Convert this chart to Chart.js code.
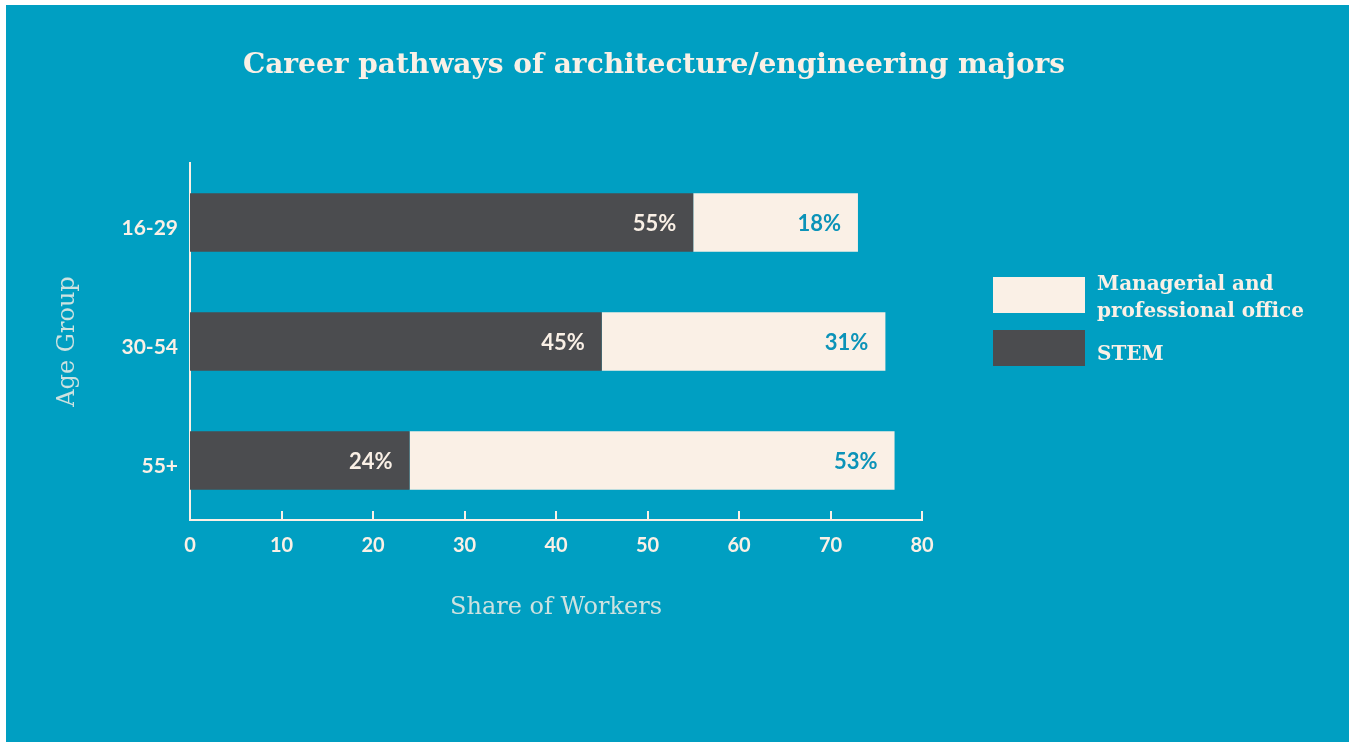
<!DOCTYPE html>
<html>
<head>
<meta charset="utf-8">
<title>Career pathways of architecture/engineering majors</title>
<script src="https://cdn.jsdelivr.net/npm/chart.js@4.4.1/dist/chart.umd.min.js"></script>
<style>
  html, body { margin: 0; padding: 0; background: #fff; }
  #wrap { position: absolute; left: 6px; top: 5px; width: 1343px; height: 737px; background: #009fc2; }
</style>
</head>
<body>
<div id="wrap"><canvas id="careerChart"></canvas></div>
<script>
// Share of workers (%) by age group
const ageGroups = ['16-29', '30-54', '55+'];
const stemShare = [55, 45, 24];
const officeShare = [18, 31, 53];
const seriesNames = ['STEM', 'Managerial and professional office'];
const xTickValues = [0, 10, 20, 30, 40, 50, 60, 70, 80];

const TEAL = '#009fc2';
const CREAM = '#faf0e6';
const SLATE = '#4b4c4f';
const SOFT = 'rgba(250, 240, 230, 0.82)';

// title + legend drawn by hand so they can sit where the design wants them
const extras = {
  id: 'extras',
  afterDraw(chart) {
    const ctx = chart.ctx;
    ctx.save();
    ctx.fillStyle = CREAM;
    ctx.textBaseline = 'middle';
    ctx.textAlign = 'center';
    ctx.font = 'bold 28px "DejaVu Serif"';
    ctx.fillText('Career pathways of architecture/engineering majors', 648, 61);

    // legend: office first, then STEM
    ctx.textAlign = 'left';
    ctx.font = 'bold 20px "DejaVu Serif"';
    const order = [1, 0];
    const boxTops = [272, 325];
    order.forEach((dsIndex, k) => {
      const ds = chart.data.datasets[dsIndex];
      ctx.fillStyle = ds.backgroundColor;
      ctx.fillRect(987, boxTops[k], 92, 36);
      ctx.fillStyle = CREAM;
      const lines = wrap(ctx, ds.label, 215);
      const lineH = 27;
      const y0 = k === 0 ? 280 : 350;
      lines.forEach((ln, li) => ctx.fillText(ln, 1091, y0 + li * lineH));
    });

    ctx.restore();
  }
};

function wrap(ctx, text, maxW) {
  const words = text.split(' ');
  const lines = [];
  let cur = '';
  words.forEach(w => {
    const test = cur ? cur + ' ' + w : w;
    if (ctx.measureText(test).width > maxW && cur) {
      lines.push(cur);
      cur = w;
    } else {
      cur = test;
    }
  });
  lines.push(cur);
  return lines;
}

// value labels inside the right end of each segment
const barLabels = {
  id: 'barLabels',
  afterDatasetsDraw(chart) {
    const ctx = chart.ctx;
    ctx.save();
    ctx.font = 'bold 22px Lato';
    ctx.textAlign = 'right';
    ctx.textBaseline = 'middle';
    chart.data.datasets.forEach((ds, i) => {
      chart.getDatasetMeta(i).data.forEach((bar, j) => {
        ctx.fillStyle = ds.labelColor;
        ctx.fillText(ds.data[j] + '%', bar.x - 17, bar.y + 1);
      });
    });
    ctx.restore();
  }
};

// short tick marks pointing up from the x axis
const innerTicks = {
  id: 'innerTicks',
  afterDatasetsDraw(chart) {
    const ctx = chart.ctx;
    const xs = chart.scales.x;
    const yBase = chart.chartArea.bottom;
    ctx.save();
    ctx.strokeStyle = CREAM;
    ctx.lineWidth = 2;
    xs.ticks.forEach(t => {
      if (t.value === 0) return;
      const x = Math.round(xs.getPixelForValue(t.value));
      ctx.beginPath();
      ctx.moveTo(x, yBase - 9);
      ctx.lineTo(x, yBase);
      ctx.stroke();
    });
    ctx.restore();
  }
};

new Chart(document.getElementById('careerChart'), {
  type: 'bar',
  data: {
    labels: ageGroups,
    datasets: [{
      label: seriesNames[0],
      data: stemShare,
      backgroundColor: SLATE,
      labelColor: CREAM,
      barPercentage: 0.49,
      categoryPercentage: 1
    }, {
      label: seriesNames[1],
      data: officeShare,
      backgroundColor: CREAM,
      labelColor: '#0b93b8',
      barPercentage: 0.49,
      categoryPercentage: 1
    }]
  },
  options: {
    indexAxis: 'y',
    responsive: true,
    maintainAspectRatio: false,
    animation: false,
    layout: { padding: { top: 158, right: 427, bottom: 102, left: 0 } },
    plugins: {
      legend: { display: false },
      title: { display: false },
      tooltip: { enabled: false }
    },
    scales: {
      x: {
        stacked: true,
        min: 0,
        max: 80,
        afterFit(scale) { scale.height = 120; },
        afterBuildTicks(scale) { scale.ticks = xTickValues.map(v => ({ value: v })); },
        grid: { display: false, drawTicks: false },
        border: { color: CREAM, width: 2 },
        ticks: { color: CREAM, font: { family: 'Lato', weight: 'bold', size: 20 }, padding: 14 },
        title: {
          display: true,
          text: 'Share of Workers',
          color: SOFT,
          font: { family: 'DejaVu Serif', size: 24, weight: 'normal' },
          padding: { top: 0, bottom: 18 }
        }
      },
      y: {
        stacked: true,
        afterFit(scale) { scale.width = 184; },
        grid: { display: false, drawTicks: false },
        border: { color: CREAM, width: 2 },
        ticks: { color: CREAM, font: { family: 'Lato', weight: 'bold', size: 21 }, padding: 12, labelOffset: 6 },
        title: {
          display: true,
          text: 'Age Group',
          color: SOFT,
          font: { family: 'DejaVu Serif', size: 24, weight: 'normal' },
          padding: { top: 47, bottom: 0 }
        }
      }
    }
  },
  plugins: [innerTicks, barLabels, extras]
});
</script>
</body>
</html>
